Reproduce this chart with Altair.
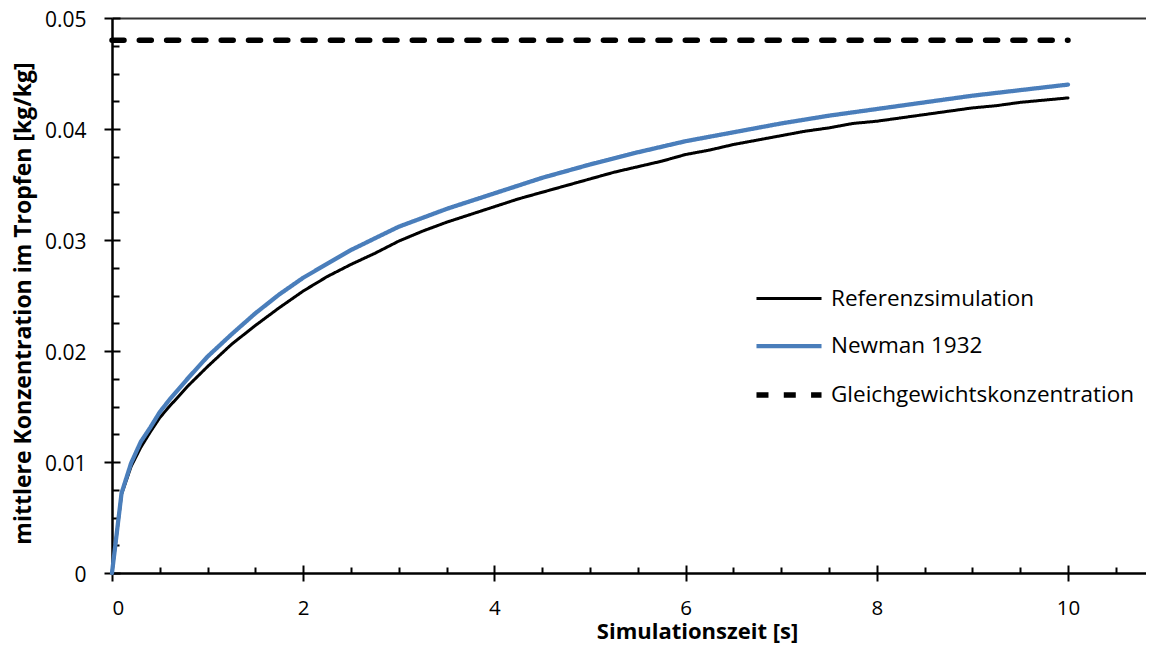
import altair as alt
import pandas as pd

# ---- data ----
series_names = ["Referenzsimulation", "Newman 1932", "Gleichgewichtskonzentration"]

t_ref = [0, 0.1, 0.2, 0.3, 0.4, 0.5, 0.6, 0.8, 1.0, 1.25, 1.5, 1.75, 2.0, 2.25, 2.5,
         2.75, 3.0, 3.25, 3.5, 3.75, 4.0, 4.25, 4.5, 4.75, 5.0, 5.25, 5.5, 5.75, 6.0,
         6.25, 6.5, 6.75, 7.0, 7.25, 7.5, 7.75, 8.0, 8.25, 8.5, 8.75, 9.0, 9.25, 9.5,
         9.75, 10.0]
c_ref = [0, 0.0071, 0.0096, 0.0113, 0.0127, 0.0140, 0.0150, 0.0169, 0.0186, 0.0206,
         0.0223, 0.0239, 0.0254, 0.0267, 0.0278, 0.0288, 0.0299, 0.0308, 0.0316,
         0.0323, 0.0330, 0.0337, 0.0343, 0.0349, 0.0355, 0.0361, 0.0366, 0.0371,
         0.0377, 0.0381, 0.0386, 0.0390, 0.0394, 0.0398, 0.0401, 0.0405, 0.0407,
         0.0410, 0.0413, 0.0416, 0.0419, 0.0421, 0.0424, 0.0426, 0.0428]

t_new = [0, 0.1, 0.2, 0.3, 0.4, 0.5, 0.6, 0.8, 1.0, 1.25, 1.5, 1.75, 2.0, 2.5, 3.0,
         3.5, 4.0, 4.5, 5.0, 5.5, 6.0, 6.5, 7.0, 7.5, 8.0, 8.5, 9.0, 9.5, 10.0]
c_new = [0, 0.0072, 0.0099, 0.0118, 0.0131, 0.0145, 0.0156, 0.0176, 0.0195, 0.0215,
         0.0234, 0.0251, 0.0266, 0.0291, 0.0312, 0.0328, 0.0342, 0.0356, 0.0368,
         0.0379, 0.0389, 0.0397, 0.0405, 0.0412, 0.0418, 0.0424, 0.0430, 0.0435,
         0.0440]

t_eq = [0, 10]
c_eq = [0.048, 0.048]

x_major = [0, 2, 4, 6, 8, 10]
x_minor = [0, 0.5, 1, 1.5, 2, 2.5, 3, 3.5, 4, 4.5, 5, 5.5, 6, 6.5, 7, 7.5, 8, 8.5,
           9, 9.5, 10, 10.5]
y_major = [0, 0.01, 0.02, 0.03, 0.04, 0.05]
y_minor = [0, 0.0025, 0.005, 0.0075, 0.01, 0.0125, 0.015, 0.0175, 0.02, 0.0225,
           0.025, 0.0275, 0.03, 0.0325, 0.035, 0.0375, 0.04, 0.0425, 0.045, 0.0475,
           0.05]

rows = []
for t, c in zip(t_ref, c_ref):
    rows.append({"t": t, "c": c, "series": series_names[0]})
for t, c in zip(t_eq, c_eq):
    rows.append({"t": t, "c": c, "series": series_names[2]})
for t, c in zip(t_new, c_new):
    rows.append({"t": t, "c": c, "series": series_names[1]})
df = pd.DataFrame(rows)

W, H = 1034, 555
FONT = "Open Sans"

x_scale = alt.Scale(domain=[0, 10.816], nice=False, zero=False)
y_scale = alt.Scale(domain=[0, 0.05], nice=False, zero=False)

leg = alt.Legend(
    title=None, orient="none", legendX=663, legendY=268,
    labelFont=FONT, labelFontSize=22.5, labelColor="black",
    symbolType="M-3,0H3", symbolSize=470, rowPadding=23, labelOffset=28,
    labelLimit=0,
)

base = alt.Chart(df)

lines = base.mark_line(strokeCap="round", strokeJoin="round").encode(
    x=alt.X("t:Q", scale=x_scale, axis=alt.Axis(
        orient="bottom", values=x_major, format="d", grid=False,
        tickSize=8, tickWidth=2, tickColor="black",
        domainColor="black", domainWidth=2.5,
        labelFont=FONT, labelFontSize=20.5, labelColor="black", labelPadding=17,
        title="Simulationszeit [s]", titleFont=FONT, titleFontSize=22,
        titleFontWeight="bold", titleColor="black",
        titleX=585, titleY=65, titleAlign="center", titleBaseline="alphabetic")),
    y=alt.Y("c:Q", scale=y_scale, axis=alt.Axis(
        orient="left", values=y_major, grid=False,
        labelExpr="datum.value == 0 ? '0' : format(datum.value, '.2f')",
        tickSize=8, tickWidth=2, tickColor="black",
        domainColor="black", domainWidth=2.5,
        labelFont=FONT, labelFontSize=21, labelColor="black", labelPadding=18,
        labelOffset=2,
        title="mittlere Konzentration im Tropfen [kg/kg]", titleFont=FONT,
        titleFontSize=23, titleFontWeight="bold", titleColor="black",
        titleAngle=270, titleX=-77, titleY=285, titleAlign="center",
        titleBaseline="bottom")),
    color=alt.Color("series:N", scale=alt.Scale(domain=series_names,
                    range=["black", "#4a7ebb", "black"]), legend=leg),
    strokeDash=alt.StrokeDash("series:N", scale=alt.Scale(domain=series_names,
                    range=[[1, 0], [1, 0], [12, 15.3]]), legend=leg),
    strokeWidth=alt.StrokeWidth("series:N", scale=alt.Scale(domain=series_names,
                    range=[3, 5.5, 3]), legend=leg),
)

inner_ticks = base.mark_line(opacity=0).encode(
    x=alt.X("t:Q", scale=x_scale, axis=alt.Axis(
        orient="top", offset=-H, values=x_minor, labels=False, domain=False,
        title=None, grid=False, tickColor="black", tickWidth=2,
        tickSize={"condition": {"test": "datum.value % 2 == 0", "value": 8},
                  "value": 6})),
    y=alt.Y("c:Q", scale=y_scale, axis=alt.Axis(
        orient="right", offset=-W, values=y_minor, labels=False, domain=False,
        title=None, grid=False, tickColor="black", tickWidth=2,
        tickSize={"condition": {"test": "abs(datum.value*100 - round(datum.value*100)) < 0.001",
                                "value": 8}, "value": 7})),
)

top_border = base.mark_line(opacity=0).encode(
    x=alt.X("t:Q", scale=x_scale, axis=alt.Axis(
        orient="top", ticks=False, labels=False, title=None, grid=False,
        domainColor="#333333", domainWidth=1.8)),
    y=alt.Y("c:Q", scale=y_scale, axis=None),
)

chart = alt.layer(lines, inner_ticks, top_border).resolve_axis(
    x="independent", y="independent"
).properties(
    width=W, height=H,
    autosize=alt.AutoSizeParams(type="none"),
    padding={"left": 104, "top": 10, "right": 0, "bottom": 71},
    background="white",
).configure_view(stroke=None)

chart.save("out.html", embed_options={"renderer": "svg", "actions": False})
